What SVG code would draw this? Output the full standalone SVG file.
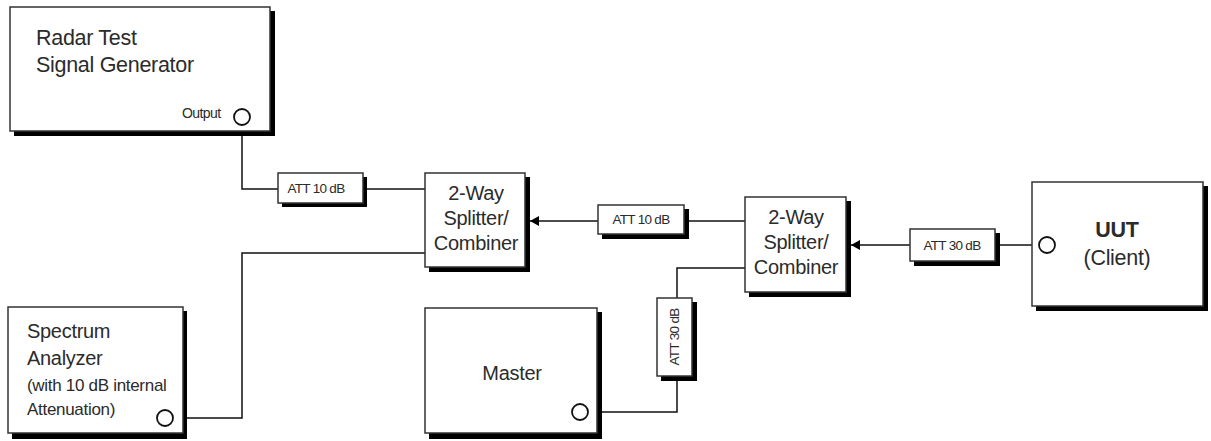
<svg xmlns="http://www.w3.org/2000/svg" width="1211" height="441" viewBox="0 0 1211 441">
  <style>
    .shadow { fill: #000; }
    .box { fill: #fff; stroke: #333; stroke-width: 1.5; }
    .port { fill: #fff; stroke: #111; stroke-width: 1.8; }
    .wire { fill: none; stroke: #111; stroke-width: 1.5; }
    text { font-family: "Liberation Sans", Arial, sans-serif; fill: #2b2b2b; }
    .big { font-size: 21.5px; letter-spacing: -0.3px; }
    .mid { font-size: 20px; letter-spacing: -0.3px; }
    .small { font-size: 17px; letter-spacing: -0.3px; }
    .att { font-size: 13.5px; letter-spacing: -0.7px; }
    .lbl { font-size: 14px; letter-spacing: -0.6px; }
  </style>
  <defs>
    <marker id="arrow" markerWidth="10" markerHeight="10" refX="9" refY="5" orient="auto" markerUnits="userSpaceOnUse">
      <path d="M0,0 L9,5 L0,10 Z" fill="#000"/>
    </marker>
  </defs>
  <rect width="1211" height="441" fill="#fff"/>

  <g id="connectors">
    <polyline class="wire" points="242,125 242,189 278,189"/>
    <line class="wire" x1="366" y1="189" x2="425" y2="189"/>
    <polyline class="wire" points="425,253 242,253 242,418 173,418"/>
    <line class="wire" x1="598" y1="221" x2="530" y2="221" marker-end="url(#arrow)"/>
    <line class="wire" x1="745" y1="221" x2="689" y2="221"/>
    <polyline class="wire" points="745,268 677,268 677,298"/>
    <polyline class="wire" points="677,380 677,412 589,412"/>
    <line class="wire" x1="910" y1="245" x2="851" y2="245" marker-end="url(#arrow)"/>
    <line class="wire" x1="999" y1="245" x2="1039" y2="245"/>
  </g>

  <g id="radar-generator">
    <rect class="shadow" x="14" y="11" width="261" height="125"/>
    <rect class="box" x="10" y="7" width="260" height="124"/>
    <text class="big" x="36" y="45">Radar Test</text>
    <text class="big" x="36" y="72">Signal Generator</text>
    <text class="lbl" x="182" y="118">Output</text>
    <circle class="port" cx="242" cy="117" r="8"/>
  </g>

  <g id="att1">
    <rect class="shadow" x="282" y="177" width="85" height="30"/>
    <rect class="box" x="278" y="173" width="85" height="30"/>
    <text class="att" x="316" y="193" text-anchor="middle">ATT 10 dB</text>
  </g>

  <g id="splitter1">
    <rect class="shadow" x="429" y="177" width="101" height="95"/>
    <rect class="box" x="425" y="173" width="100" height="94"/>
    <text class="mid" x="476" y="200" text-anchor="middle">2-Way</text>
    <text class="mid" x="476" y="225" text-anchor="middle">Splitter/</text>
    <text class="mid" x="476" y="250" text-anchor="middle">Combiner</text>
  </g>

  <g id="att2">
    <rect class="shadow" x="602" y="209" width="87" height="30"/>
    <rect class="box" x="598" y="205" width="86" height="29"/>
    <text class="att" x="641" y="224" text-anchor="middle">ATT 10 dB</text>
  </g>

  <g id="splitter2">
    <rect class="shadow" x="749" y="201" width="102" height="96"/>
    <rect class="box" x="745" y="197" width="101" height="95"/>
    <text class="mid" x="796" y="224" text-anchor="middle">2-Way</text>
    <text class="mid" x="796" y="249" text-anchor="middle">Splitter/</text>
    <text class="mid" x="796" y="274" text-anchor="middle">Combiner</text>
  </g>

  <g id="att3">
    <rect class="shadow" x="914" y="233" width="86" height="33"/>
    <rect class="box" x="910" y="229" width="85" height="32"/>
    <text class="att" x="952" y="250" text-anchor="middle">ATT 30 dB</text>
  </g>

  <g id="uut">
    <rect class="shadow" x="1036" y="186" width="172" height="125"/>
    <rect class="box" x="1032" y="182" width="171" height="124"/>
    <text class="big" x="1117" y="237" text-anchor="middle" font-weight="bold">UUT</text>
    <text class="big" x="1117" y="265" text-anchor="middle">(Client)</text>
    <circle class="port" cx="1047" cy="245" r="8"/>
  </g>

  <g id="spectrum-analyzer">
    <rect class="shadow" x="12" y="311" width="175" height="128"/>
    <rect class="box" x="8" y="307" width="175" height="126"/>
    <text class="mid" x="27" y="338">Spectrum</text>
    <text class="mid" x="27" y="365">Analyzer</text>
    <text class="small" x="27" y="391">(with 10 dB internal</text>
    <text class="small" x="27" y="415">Attenuation)</text>
    <circle class="port" cx="165" cy="418" r="8"/>
  </g>

  <g id="att4">
    <rect class="shadow" x="661" y="302" width="36" height="79"/>
    <rect class="box" x="657" y="298" width="35" height="78"/>
    <text class="att" transform="translate(679,337) rotate(-90)" text-anchor="middle">ATT 30 dB</text>
  </g>

  <g id="master">
    <rect class="shadow" x="429" y="312" width="173" height="127"/>
    <rect class="box" x="425" y="308" width="172" height="125"/>
    <text class="mid" x="512" y="380" text-anchor="middle">Master</text>
    <circle class="port" cx="580" cy="412" r="8"/>
  </g>
</svg>
